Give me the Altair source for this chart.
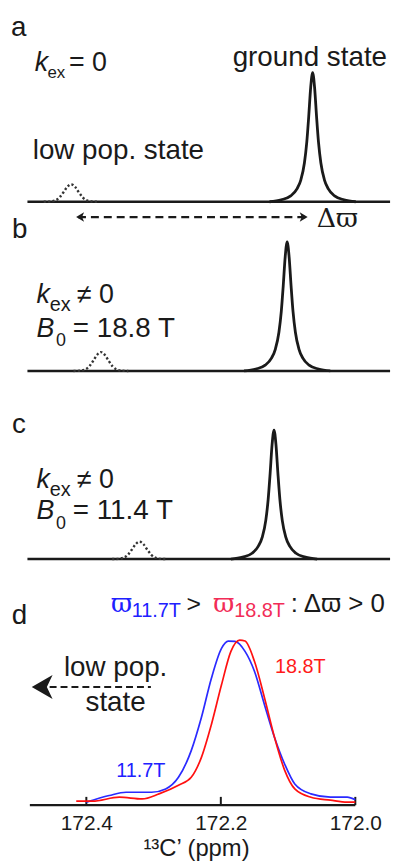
import altair as alt
import pandas as pd

FONT = "Liberation Sans"
SERIF = "DejaVu Serif"
INK = "#1a1a1a"

# ---------------- panels a-c : simulated spectra (arbitrary frequency units 0-100) -------------
# line shape of the major (ground state) peak
major_offset = [-11, -8.0, -5.6, -4.0, -3.0, -2.1, -1.5, -1.0, -0.5, 0, 0.5, 1.0, 1.5, 2.1, 3.0, 4.0, 5.6, 8.0, 11]
major_shape = [0.0, 0.015, 0.045, 0.10, 0.17, 0.30, 0.46, 0.66, 0.885, 1.0, 0.885, 0.66, 0.46, 0.30, 0.17, 0.10, 0.045, 0.015, 0.0]
# line shape of the minor (low population) peak
minor_offset = [-7, -5.5, -4, -3, -2, -1, 0, 1, 2, 3, 4, 5.5, 7]
minor_shape = [0.0, 0.01, 0.08, 0.24, 0.53, 0.85, 1.0, 0.85, 0.53, 0.24, 0.08, 0.01, 0.0]

panels = ["a", "b", "c"]
major_center = [79.75, 73.25, 69.9]
major_height = [1.0, 1.0, 1.0]
minor_center = [18.15, 25.75, 35.6]
minor_height = [0.135, 0.146, 0.135]
baseline_span = [7.0, 99.5]

# y-extent of each panel (intensity units)
y_domains = {"a": [-0.15385, 1.53846], "b": [-0.30385, 1.15769], "c": [-0.30769, 1.15385]}
panel_heights = {"a": 220, "b": 190, "c": 190}

# ---------------- panel d : measured 13C' spectra -------------
ppm_blue = [172.400, 172.366, 172.341, 172.303, 172.282, 172.263, 172.244, 172.229, 172.214, 172.199,
            172.189, 172.179, 172.164, 172.150, 172.135, 172.120, 172.105, 172.090, 172.066, 172.037,
            172.012, 172.000]
int_blue = [0.018, 0.058, 0.078, 0.078, 0.098, 0.168, 0.329, 0.527, 0.766, 0.946,
            0.990, 0.988, 0.928, 0.808, 0.605, 0.407, 0.247, 0.128, 0.068, 0.048,
            0.048, 0.032]
ppm_red = [172.415, 172.391, 172.351, 172.317, 172.292, 172.263, 172.244, 172.229, 172.214, 172.199,
           172.185, 172.172, 172.164, 172.150, 172.135, 172.120, 172.105, 172.090, 172.066, 172.037,
           172.012, 172.000]
int_red = [0.024, 0.024, 0.048, 0.038, 0.068, 0.120, 0.168, 0.287, 0.487, 0.726,
           0.928, 0.996, 0.990, 0.868, 0.647, 0.407, 0.210, 0.098, 0.048, 0.030,
           0.018, 0.018]
ppm_ticks = [172.4, 172.2, 172.0]
ppm_domain = [171.9454, 172.5284]
d_y_domain = [0.0, 1.24551]
axis_span = [172.484, 172.0]

W = 395


def xy(xs, ys, xaxis=None):
    return dict(x=alt.X("x:Q", scale=xs, axis=xaxis), y=alt.Y("y:Q", scale=ys, axis=None))


def text(xs, ys, x, y, s, size, color=INK, font=FONT, align="left", xaxis=None, **kw):
    df = pd.DataFrame({"x": [x], "y": [y], "t": [s]})
    return alt.Chart(df).mark_text(
        fontSize=size, font=font, color=color, align=align, baseline="alphabetic", **kw
    ).encode(text="t:N", **xy(xs, ys, xaxis))


def arrowhead(xs, ys, x, y, path, size, xaxis=None):
    df = pd.DataFrame({"x": [x], "y": [y]})
    return alt.Chart(df).mark_point(
        shape=path, filled=True, size=size, color=INK, opacity=1, strokeWidth=0
    ).encode(**xy(xs, ys, xaxis))


LEFT_HEAD = "M0,0 L2,-1.2 L1.5,0 L2,1.2 Z"
RIGHT_HEAD = "M0,0 L-2,-1.2 L-1.5,0 L-2,1.2 Z"

xs_abc = alt.Scale(domain=[0, 100], nice=False, zero=False)

charts = []
for i, p in enumerate(panels):
    ys = alt.Scale(domain=y_domains[p], nice=False, zero=False)
    base_df = pd.DataFrame({"x": baseline_span, "y": [0, 0]})
    maj_df = pd.DataFrame({"x": [major_center[i] + o for o in major_offset],
                           "y": [major_height[i] * v for v in major_shape]})
    min_df = pd.DataFrame({"x": [minor_center[i] + o for o in minor_offset],
                           "y": [minor_height[i] * v for v in minor_shape]})
    layers = [
        alt.Chart(base_df).mark_line(color=INK, strokeWidth=2.4).encode(**xy(xs_abc, ys)),
        alt.Chart(min_df).mark_line(color="#333333", strokeWidth=2.4, strokeDash=[2.2, 2.2],
                                    interpolate="monotone").encode(**xy(xs_abc, ys)),
        alt.Chart(maj_df).mark_line(color=INK, strokeWidth=2.8,
                                    interpolate="monotone").encode(**xy(xs_abc, ys)),
    ]
    if p == "a":
        layers += [
            text(xs_abc, ys, 2.78, 1.285, "a", 28),
            text(xs_abc, ys, 8.86, 1.015, "k", 27, fontStyle="italic"),
            text(xs_abc, ys, 12.1, 0.96, "ex", 17),
            text(xs_abc, ys, 17.6, 1.015, "= 0", 27),
            text(xs_abc, ys, 98.73, 1.054, "ground state", 28, align="right"),
            text(xs_abc, ys, 8.35, 0.333, "low pop. state", 28),
        ]
        arrow_df = pd.DataFrame({"x": [19.9, 78.0], "y": [-0.119, -0.119]})
        layers += [
            alt.Chart(arrow_df).mark_line(color=INK, strokeWidth=2.2, strokeDash=[8, 5]).encode(**xy(xs_abc, ys)),
            arrowhead(xs_abc, ys, 19.42, -0.119, LEFT_HEAD, 64),
            arrowhead(xs_abc, ys, 78.48, -0.119, RIGHT_HEAD, 64),
            text(xs_abc, ys, 80.8, -0.192, "\u0394\u03d6", 27, font=SERIF),
        ]
    else:
        if p == "b":
            ky, ey, by, zy, label, field = 0.529, 0.465, 0.26, 0.196, "b", "= 18.8 T"
            ly = 1.029
        else:
            ky, ey, by, zy, label, field = 0.552, 0.492, 0.308, 0.231, "c", "= 11.4 T"
            ly = 0.977
        layers += [
            text(xs_abc, ys, 3.04, ly, label, 28),
            text(xs_abc, ys, 9.29, ky, "k", 27, fontStyle="italic"),
            text(xs_abc, ys, 12.7, ey, "ex", 20),
            text(xs_abc, ys, 19.6, ky, "\u2260 0", 27),
            text(xs_abc, ys, 9.29, by, "B", 27, fontStyle="italic"),
            text(xs_abc, ys, 14.3, zy, "0", 18),
            text(xs_abc, ys, 18.56, by, field, 28),
        ]
    charts.append(alt.layer(*layers).properties(width=W, height=panel_heights[p]))

# ---------------- panel d ----------------
xs_d = alt.Scale(domain=ppm_domain, reverse=True, nice=False, zero=False)
ys_d = alt.Scale(domain=d_y_domain, nice=False, zero=False)
d_axis = alt.Axis(
    values=ppm_ticks, format=".1f", domain=False, ticks=False, tickSize=0, grid=False,
    labelFont=FONT, labelFontSize=21, labelColor=INK, labelPadding=8, labelFlush=False,
    labelOverlap=False,
    title="\u00b9\u00b3C\u2019 (ppm)", titleFont=FONT, titleFontSize=24, titleFontWeight="normal",
    titleColor=INK, titlePadding=3)

curve_df = pd.DataFrame({
    "x": ppm_blue + ppm_red,
    "y": int_blue + int_red,
    "field": ["11.7T"] * len(ppm_blue) + ["18.8T"] * len(ppm_red),
})

axis_df = pd.DataFrame({"x": [axis_span[0]], "x2": [axis_span[1]], "y": [0.0]})
axis_line = alt.Chart(axis_df).mark_rule(color=INK, strokeWidth=2.4).encode(
    x=alt.X("x:Q", scale=xs_d, axis=d_axis), x2="x2:Q", y=alt.Y("y:Q", scale=ys_d, axis=None))
tick_df = pd.DataFrame({"x": ppm_ticks, "y": [0.0] * 3, "y2": [0.05] * 3})
ticks = alt.Chart(tick_df).mark_rule(color=INK, strokeWidth=2).encode(
    x=alt.X("x:Q", scale=xs_d, axis=d_axis), y=alt.Y("y:Q", scale=ys_d, axis=None), y2="y2:Q")
curves = alt.Chart(curve_df).mark_line(strokeWidth=1.7, interpolate="monotone").encode(
    x=alt.X("x:Q", scale=xs_d, axis=d_axis),
    y=alt.Y("y:Q", scale=ys_d, axis=None),
    color=alt.Color("field:N", scale=alt.Scale(domain=["11.7T", "18.8T"], range=["#2a2aff", "#ff1010"]),
                    legend=None),
    detail="field:N",
)

arrow_d = pd.DataFrame({"x": [172.4546, 172.304], "y": [0.7126, 0.7126]})
BLUE_T = "#2020ff"
PINK_T = "#f22c57"
RED_T = "#ff1a1a"
d_layers = [
    axis_line, ticks, curves,
    alt.Chart(arrow_d).mark_line(color=INK, strokeWidth=2, strokeDash=[7, 4]).encode(**xy(xs_d, ys_d, d_axis)),
    arrowhead(xs_d, ys_d, 172.4812, 0.7126, "M0,0 L2,-1.15 L1.45,0 L2,1.15 Z", 441, d_axis),
    text(xs_d, ys_d, 172.5111, 1.096, "d", 28, xaxis=d_axis),
    text(xs_d, ys_d, 172.3635, 1.168, "\u03d6", 26, color=BLUE_T, font=SERIF, xaxis=d_axis),
    text(xs_d, ys_d, 172.3325, 1.136, "11.7T", 20, color=BLUE_T, xaxis=d_axis),
    text(xs_d, ys_d, 172.2509, 1.168, ">", 25, xaxis=d_axis),
    text(xs_d, ys_d, 172.2111, 1.168, "\u03d6", 26, color=PINK_T, font=SERIF, xaxis=d_axis),
    text(xs_d, ys_d, 172.1800, 1.136, "18.8T", 20, color=PINK_T, xaxis=d_axis),
    text(xs_d, ys_d, 172.0959, 1.168, ": \u0394\u03d6 > 0", 26, xaxis=d_axis),
    text(xs_d, ys_d, 172.1196, 0.796, "18.8T", 20, color=RED_T, xaxis=d_axis),
    text(xs_d, ys_d, 172.3557, 0.172, "11.7T", 20, color=BLUE_T, xaxis=d_axis),
    text(xs_d, ys_d, 172.3565, 0.778, "low pop.", 28, align="center", xaxis=d_axis),
    text(xs_d, ys_d, 172.3565, 0.569, "state", 28, align="center", xaxis=d_axis),
]
charts.append(alt.layer(*d_layers).properties(width=W, height=208))

chart = alt.vconcat(*charts, spacing=0, bounds="flush").properties(
    padding=0, background="white"
).configure_view(stroke=None)

chart.save("out.html", embed_options={"renderer": "svg", "actions": False})
